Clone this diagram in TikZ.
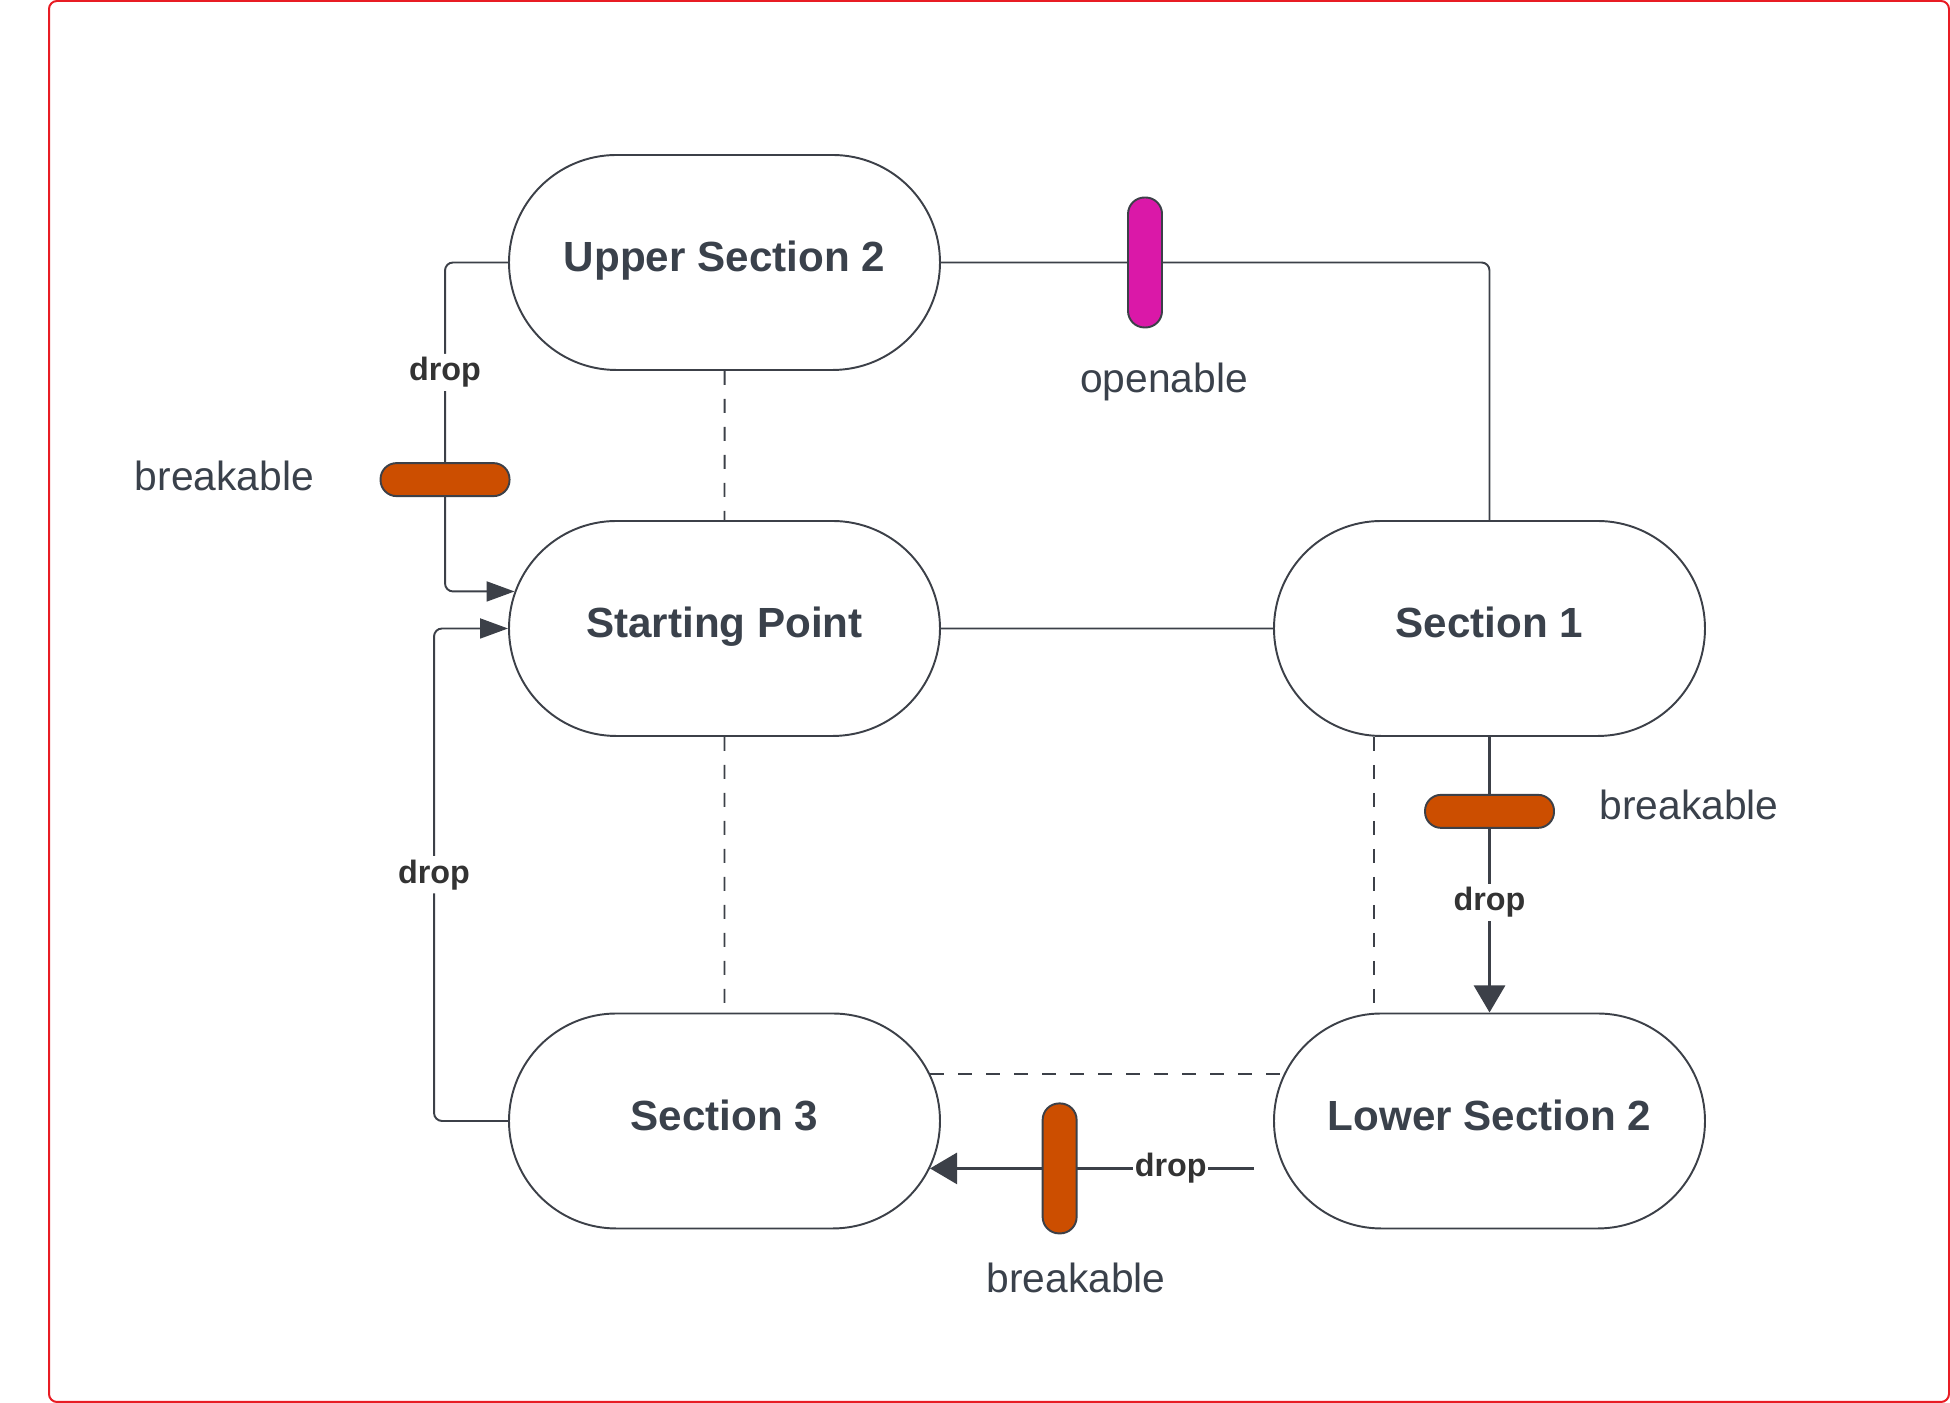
\documentclass[tikz,border=0pt]{standalone}
\usepackage{fontspec}
\setmainfont{Liberation Sans}
\usetikzlibrary{shapes.misc,arrows.meta}
\definecolor{ink}{RGB}{60,64,72}
\definecolor{labelink}{RGB}{58,65,75}
\definecolor{dropink}{RGB}{51,51,51}
\definecolor{rust}{RGB}{204,78,0}
\definecolor{lockpink}{RGB}{218,24,168}
\definecolor{framered}{RGB}{232,28,36}
\tikzset{
  state/.style={rounded rectangle, draw=ink, line width=.55pt, minimum width=4.31cm,
    minimum height=2.15cm, inner sep=0pt, text=labelink, text height=.73em, text depth=.21em,
    font=\fontsize{12}{14}\selectfont\bfseries},
  link/.style={draw=ink, line width=.55pt},
  dropedge/.style={draw=ink, line width=.8pt},
  soft/.style={link, dash pattern=on 1.4mm off 1.4mm},
  droplbl/.style={fill=white, inner xsep=.4pt, inner ysep=1pt, text=dropink,
    font=\fontsize{9.2}{11}\selectfont\bfseries},
  barh/.style={draw=ink, line width=.55pt, fill=rust, minimum width=1.29cm,
    minimum height=.33cm, rounded corners=1.6mm, inner sep=0pt},
  barv/.style={draw=ink, line width=.55pt, fill=rust, minimum width=.34cm,
    minimum height=1.3cm, rounded corners=1.65mm, inner sep=0pt},
  tag/.style={text=labelink, font=\fontsize{11.6}{14}\selectfont},
  thintip/.style={-{Triangle[length=2.8mm,width=2mm]}},
  widetip/.style={-{Triangle[length=2.7mm,width=3.1mm]}},
}
\begin{document}
\begin{tikzpicture}
  \useasboundingbox (0,0) rectangle (19.5,14.03);
  \draw[framered, line width=.2mm, rounded corners=.8mm] (.49,.01) rectangle (19.49,14.02);
  % the five sections
  \foreach \n/\x/\y/\t in {us2/7.245/11.405/Upper Section 2, sp/7.245/7.745/Starting Point,
      s1/14.895/7.745/Section 1, s3/7.245/2.82/Section 3, ls2/14.895/2.82/Lower Section 2}
    \node[state] (\n) at (\x,\y) {\t};
  % dashed neighbours
  \draw[soft] (us2) -- (sp);
  \draw[soft] (sp) -- (s3);
  \draw[soft] (s3.13.5) -- (ls2.166.5 |- s3.13.5);
  \draw[soft] ([xshift=-11.55mm]s1.south) -- ([xshift=-11.55mm]ls2.north);
  \draw[link] (sp) -- (s1);
  % doors and drops
  \draw[link, rounded corners=.8mm] (us2.east) -| node[barv, fill=lockpink, pos=.186]{} (s1.north);
  \draw[link, rounded corners=.8mm, thintip] (us2.west) -- ++(-.63,0)
    |- node[droplbl, pos=.167]{drop} node[barh, pos=.33]{} (sp.170);
  \draw[link, rounded corners=.8mm, thintip] (s3.west) -- ++(-.74,0)
    |- node[droplbl, pos=.25]{drop} (sp.west);
  \draw[dropedge, widetip] (s1) -- node[barh, pos=.27]{} node[droplbl, pos=.6]{drop} (ls2);
  \draw[dropedge, widetip] ([xshift=-1.9mm]ls2.west |- s3.-13.2)
    -- node[droplbl, pos=.257]{drop} node[barv, pos=.6]{} (s3.-13.2);
  % door kinds
  \node[tag] (openlbl) at (11.64,10.21) {openable};
  \node[tag] (brkl) at (2.245,9.27) {breakable};
  \node[tag] (brkr) at (16.89,5.98) {breakable};
  \node[tag] (brkb) at (10.76,1.255) {breakable};
\end{tikzpicture}
\end{document}
